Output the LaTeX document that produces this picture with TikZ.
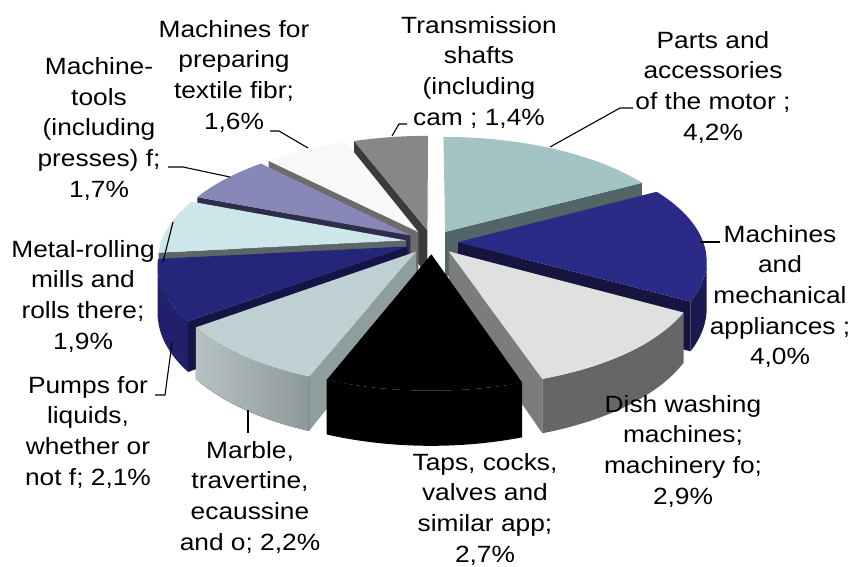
\documentclass[tikz,border=0pt]{standalone}
\usepackage{fontspec}
\setmainfont{Liberation Sans}[FakeStretch=1.12]
\definecolor{tealT}{HTML}{A3C3C5}
\definecolor{tealF}{HTML}{536667}
\definecolor{navyT}{HTML}{2B2A86}
\definecolor{navyF}{HTML}{161540}
\definecolor{navyW}{HTML}{1A1950}
\definecolor{lgT}{HTML}{E0E0E0}
\definecolor{lgF}{HTML}{7C7C7C}
\definecolor{lgW}{HTML}{666666}
\definecolor{mbT}{HTML}{BFD0D3}
\definecolor{mbF}{HTML}{909D9E}
\definecolor{mbWL}{HTML}{B6C2C3}
\definecolor{mbWR}{HTML}{8C9899}
\definecolor{pmT}{HTML}{25257A}
\definecolor{pmF}{HTML}{141446}
\definecolor{pmW}{HTML}{20206C}
\definecolor{cyT}{HTML}{CDE6EA}
\definecolor{cyF}{HTML}{5C6667}
\definecolor{lvT}{HTML}{8888B8}
\definecolor{lvF}{HTML}{2E2E4C}
\definecolor{whT}{HTML}{F8F8F8}
\definecolor{whF}{HTML}{6C6C6C}
\definecolor{trT}{HTML}{878787}
\definecolor{trF}{HTML}{3B3B3B}
\tikzset{
  lbl/.style={font={\fontsize{23.5}{30.6}\selectfont}, align=center, anchor=north, inner sep=0pt},
  leader/.style={draw=black, line width=1.1pt},
  declare function={
    ww(\v)=1/(1+0.15*\v);
    sx(\u,\v)=432+245*\u*ww(\v);
    sy(\u,\v)=242-112*\v*ww(\v);
    sb(\u,\v)=242-112*\v*ww(\v)+46*ww(\v);
  }
}
% #1 ccw angle, #2 cw angle, #3 top colour, #4 wall style, #5 ccw face colour, #6 cw face colour
\newcommand{\pieslice}[6]{%
  \pgfmathsetmacro\smid{(#1+#2)/2}%
  \pgfmathsetmacro\scu{0.107*cos(\smid)}%
  \pgfmathsetmacro\scv{0.107*sin(\smid)}%
  \coordinate (AT) at ({sx(\scu,\scv)},{sy(\scu,\scv)});
  \coordinate (AB) at ({sx(\scu,\scv)},{sb(\scu,\scv)});
  \coordinate (CT) at ({sx(\scu+cos(#1),\scv+sin(#1))},{sy(\scu+cos(#1),\scv+sin(#1))});
  \coordinate (CB) at ({sx(\scu+cos(#1),\scv+sin(#1))},{sb(\scu+cos(#1),\scv+sin(#1))});
  \coordinate (DT) at ({sx(\scu+cos(#2),\scv+sin(#2))},{sy(\scu+cos(#2),\scv+sin(#2))});
  \coordinate (DB) at ({sx(\scu+cos(#2),\scv+sin(#2))},{sb(\scu+cos(#2),\scv+sin(#2))});
  \fill[fill=#5] (AT) -- (CT) -- (CB) -- (AB) -- cycle;
  \fill[fill=#6] (AT) -- (DT) -- (DB) -- (AB) -- cycle;
  \pgfmathsetmacro\wlo{max(#2,-171.37)}%
  \pgfmathsetmacro\whi{min(#1,-8.63)}%
  \pgfmathtruncatemacro\haswall{\whi>\wlo}%
  \ifnum\haswall=1
    \fill[#4] plot[domain=\wlo:\whi,samples=30,variable=\ang] ({sx(\scu+cos(\ang),\scv+sin(\ang))},{sy(\scu+cos(\ang),\scv+sin(\ang))})
      -- plot[domain=\whi:\wlo,samples=30,variable=\ang] ({sx(\scu+cos(\ang),\scv+sin(\ang))},{sb(\scu+cos(\ang),\scv+sin(\ang))}) -- cycle;
  \fi
  \fill[fill=#3] (AT) -- plot[domain=#1:#2,samples=40,variable=\ang] ({sx(\scu+cos(\ang),\scv+sin(\ang))},{sy(\scu+cos(\ang),\scv+sin(\ang))}) -- cycle;
}
\begin{document}
\begin{tikzpicture}[x=1pt,y=-1pt]
\fill[white] (0,0) rectangle (854,566);
\useasboundingbox (0,0) rectangle (854,566);
% slices, back to front
\pieslice{-249.59}{-270}{trT}{fill=trF}{trF}{none}
\pieslice{90}{28.79}{tealT}{fill=tealF}{none}{tealF}
\pieslice{-226.27}{-249.59}{whT}{fill=whF}{whF}{none}
\pieslice{-201.49}{-226.27}{lvT}{fill=lvF}{lvF}{none}
\pieslice{-173.80}{-201.49}{cyT}{fill=cyF}{cyF}{none}
\pieslice{28.79}{-29.51}{navyT}{fill=navyW}{none}{navyF}
\pieslice{-143.19}{-173.80}{pmT}{fill=pmW}{pmF}{none}
\pieslice{-29.51}{-71.78}{lgT}{fill=lgW}{none}{lgF}
\pieslice{-111.13}{-143.19}{mbT}{left color=mbWL,right color=mbWR}{mbF}{none}
\pieslice{-71.78}{-111.13}{black}{fill=black}{none}{none}
% labels
\node[lbl] (ltex) at (234,20) {Machines for\\preparing\\textile fibr;\\1,6\%};
\node[lbl] (ltra) at (479,16) {Transmission\\shafts\\(including\\cam ; 1,4\%};
\node[lbl] (lpar) at (713,31) {Parts and\\accessories\\of the motor ;\\4,2\%};
\node[lbl] (ltoo) at (99,57.5) {Machine-\\tools\\(including\\presses) f;\\1,7\%};
\node[lbl] (lmet) at (83,240) {Metal-rolling\\mills and\\rolls there;\\1,9\%};
\node[lbl] (lpum) at (88,376) {Pumps for\\liquids,\\whether or\\not f; 2,1\%};
\node[lbl] (lmar) at (250,441) {Marble,\\travertine,\\ecaussine\\and o; 2,2\%};
\node[lbl] (ltap) at (485,453) {Taps, cocks,\\valves and\\similar app;\\2,7\%};
\node[lbl] (ldis) at (683,395) {Dish washing\\machines;\\machinery fo;\\2,9\%};
\node[lbl] (lmac) at (780,225) {Machines\\and\\mechanical\\appliances ;\\4,0\%};
% leader lines
\coordinate (a1) at (270,131); \coordinate (b1) at (279,131); \coordinate (c1) at (308,148);
\coordinate (a2) at (407,124); \coordinate (b2) at (399,124); \coordinate (c2) at (392,136);
\coordinate (a3) at (633,108); \coordinate (b3) at (620,108); \coordinate (c3) at (550,147);
\coordinate (a4) at (168,167); \coordinate (b4) at (183,167); \coordinate (c4) at (230,177);
\coordinate (a5) at (163,262); \coordinate (c5) at (173,222);
\coordinate (a6) at (155,395); \coordinate (b6) at (165,395); \coordinate (c6) at (172,343);
\coordinate (a7) at (248,433); \coordinate (c7) at (248,410);
\coordinate (a8) at (720,242); \coordinate (c8) at (700,242);
\draw[leader] (a1) -- (b1) -- (c1);
\draw[leader] (a2) -- (b2) -- (c2);
\draw[leader] (a3) -- (b3) -- (c3);
\draw[leader] (a4) -- (b4) -- (c4);
\draw[leader] (a5) -- (c5);
\draw[leader] (a6) -- (b6) -- (c6);
\draw[leader] (a7) -- (c7);
\draw[leader] (a8) -- (c8);
\end{tikzpicture}
\end{document}
